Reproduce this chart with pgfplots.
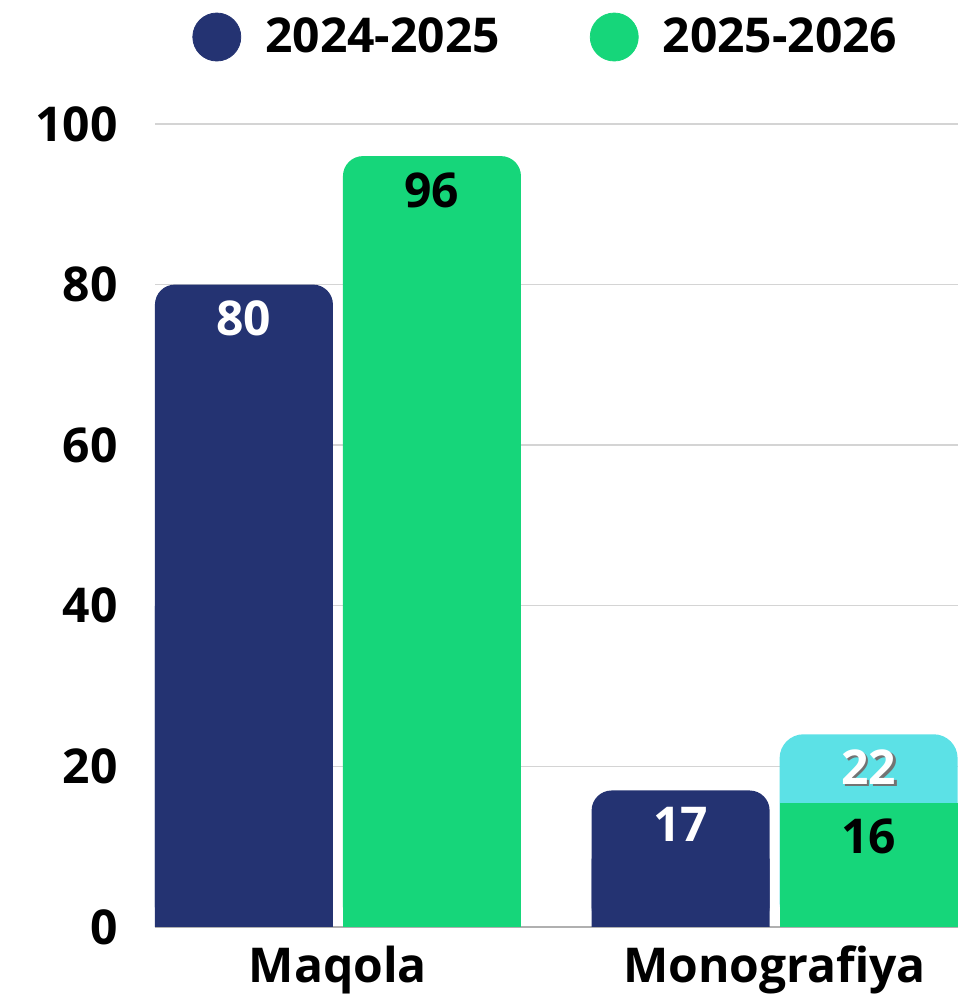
\documentclass[border=0pt]{standalone}
\usepackage{fontspec}
\setmainfont{Open Sans}
\usepackage{pgfplots}
\usepackage{pgfplotstable}
\pgfplotsset{compat=1.18}
\definecolor{cblue}{HTML}{243372}
\definecolor{cgreen}{HTML}{16D67A}
\definecolor{ccyan}{HTML}{5CE1E6}
\definecolor{cgrid}{HTML}{D4D4D4}
\definecolor{caxis}{HTML}{B0B0B0}
\newcommand{\bigfont}{\fontsize{24}{28}\selectfont\bfseries}
\newcommand{\shadowtext}[1]{\makebox[0pt][l]{\hspace{1.2pt}\raisebox{-1.2pt}{\color{black!55}#1}}\color{white}#1}

\pgfplotstableread{
x y lab
0 80 80
1 17 17
}\blueData
\pgfplotstableread{
x y lab
0 96 96
}\greenMaq
\pgfplotstableread{
x y lab
1 15.5 16
}\greenMono
\pgfplotstableread{
x y lab
1 24 {\shadowtext{22}}
}\cyanMono

\begin{document}
\begin{tikzpicture}
\begin{axis}[
  name=ax,
  scale only axis, width=401.5pt, height=401.5pt,
  xmin=-0.419, xmax=1.420, ymin=0, ymax=100,
  ybar, bar width=89pt,
  axis x line*=bottom, axis y line*=left,
  y axis line style={draw=none},
  x axis line style={draw=caxis, line width=0.8pt, -},
  major tick length=0pt,
  ytick={0,20,...,100},
  ymajorgrids, grid style={cgrid, line width=0.7pt},
  xtick={0,1}, xticklabels={Maqola, Monografiya},
  tick label style={font=\bigfont},
  /pgf/number format/assume math mode=true,
  yticklabel style={anchor=east, inner sep=0pt, xshift=-18.5pt},
  xticklabel style={anchor=center, inner sep=0pt, yshift=-21.5pt},
  legend style={draw=none, fill=none, at={(0.0461,1.1083)}, anchor=west,
    legend columns=2, font=\bigfont, inner sep=0pt, row sep=0pt,
    nodes={inner sep=0pt},
    /tikz/every odd column/.append style={column sep=12pt},
    /tikz/every even column/.append style={column sep=45pt}},
  clip=false,
]
\addlegendimage{legend image code/.code={\fill[cblue] (12pt,0pt) circle (12pt);}}
\addlegendentry{2024-2025}
\addlegendimage{legend image code/.code={\fill[cgreen] (12pt,0pt) circle (12pt);}}
\addlegendentry{2025-2026}

% 2024-2025 (rounded top, sharp bottom cover)
\addplot[forget plot, fill=cblue, draw=none, rounded corners=10pt, bar shift=-47pt,
  nodes near coords, point meta=explicit symbolic,
  every node near coord/.append style={anchor=center, yshift=-17pt, text=white, font=\bigfont}]
  table[x=x, y=y, meta=lab] {\blueData};
\addplot[forget plot, fill=cblue, draw=none, bar shift=-47pt]
  table[x=x, y expr=\thisrow{y}/2] {\blueData};

% 2025-2026 Maqola
\addplot[forget plot, fill=cgreen, draw=none, rounded corners=10pt, bar shift=47pt,
  nodes near coords, point meta=explicit symbolic,
  every node near coord/.append style={anchor=center, yshift=-17pt, text=black, font=\bigfont}]
  table[x=x, y=y, meta=lab] {\greenMaq};
\addplot[forget plot, fill=cgreen, draw=none, bar shift=47pt]
  table[x=x, y expr=\thisrow{y}/2] {\greenMaq};

% 2025-2026 Monografiya: cyan top part, green lower part
\addplot[forget plot, fill=ccyan, draw=none, rounded corners=12pt, bar shift=47pt,
  nodes near coords, point meta=explicit symbolic,
  every node near coord/.append style={anchor=center, yshift=-17pt, font=\bigfont}]
  table[x=x, y=y, meta=lab] {\cyanMono};
\addplot[forget plot, fill=ccyan, draw=none, bar shift=47pt]
  table[x=x, y expr=\thisrow{y}/2] {\cyanMono};
\addplot[forget plot, fill=cgreen, draw=none, bar shift=47pt,
  nodes near coords, point meta=explicit symbolic,
  every node near coord/.append style={anchor=center, yshift=-17pt, text=black, font=\bigfont}]
  table[x=x, y=y, meta=lab] {\greenMono};
\end{axis}
\pgfresetboundingbox
\path ([shift={(-77.5pt,-36pt)}]ax.south west) rectangle ([shift={(407.5pt,463.5pt)}]ax.south west);
\end{tikzpicture}
\end{document}
